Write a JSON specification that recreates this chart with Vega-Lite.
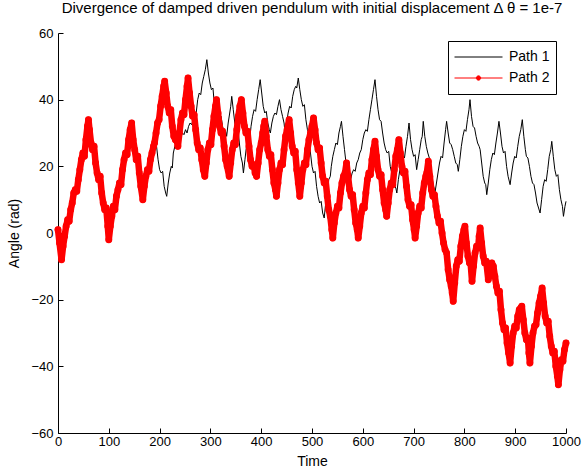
{
  "$schema": "https://vega.github.io/schema/vega-lite/v6.json",
  "width": 508,
  "height": 400,
  "autosize": {"type": "none"},
  "padding": {"left": 58, "top": 33, "right": 16, "bottom": 38},
  "background": "white",
  "config": {
    "view": {"stroke": null},
    "font": "Liberation Sans",
    "axis": {
      "grid": false,
      "domainColor": "#000000",
      "tickColor": "#000000",
      "labelColor": "#000000",
      "titleColor": "#000000",
      "labelFont": "Liberation Sans",
      "titleFont": "Liberation Sans",
      "labelFontSize": 13,
      "titleFontSize": 14,
      "titleFontWeight": "normal",
      "tickSize": -5
    },
    "legend": {
      "orient": "none",
      "legendX": 390,
      "legendY": 8,
      "strokeColor": "#000000",
      "fillColor": "white",
      "padding": 6,
      "symbolType": "stroke",
      "symbolSize": 2304,
      "symbolStrokeWidth": 1,
      "clipHeight": 20,
      "rowPadding": 1,
      "labelFont": "Liberation Sans",
      "labelFontSize": 14,
      "labelColor": "#000000",
      "labelOffset": 6,
      "title": null
    }
  },
  "title": {
    "text": "Divergence of damped driven pendulum with initial displacement Δ θ = 1e-7",
    "font": "Liberation Sans",
    "fontSize": 15,
    "fontWeight": "normal",
    "color": "#000000",
    "anchor": "middle",
    "offset": 11
  },
  "data": {
    "values": [
      {"p":"Path 1","t":0,"y":1},{"p":"Path 1","t":3,"y":-3},{"p":"Path 1","t":7,"y":-8},{"p":"Path 1","t":10,"y":-4},{"p":"Path 1","t":13,"y":-1},{"p":"Path 1","t":16,"y":2},{"p":"Path 1","t":19,"y":4},{"p":"Path 1","t":22,"y":3.5},{"p":"Path 1","t":25,"y":7},{"p":"Path 1","t":28,"y":9},{"p":"Path 1","t":31,"y":12},{"p":"Path 1","t":34,"y":13},{"p":"Path 1","t":37,"y":12.5},{"p":"Path 1","t":40,"y":16},{"p":"Path 1","t":43,"y":19},{"p":"Path 1","t":46,"y":22},{"p":"Path 1","t":49,"y":24},{"p":"Path 1","t":52,"y":23},{"p":"Path 1","t":55,"y":28},{"p":"Path 1","t":58,"y":32},{"p":"Path 1","t":60,"y":34},{"p":"Path 1","t":62,"y":31},{"p":"Path 1","t":65,"y":27},{"p":"Path 1","t":68,"y":25},{"p":"Path 1","t":71,"y":26},{"p":"Path 1","t":74,"y":21},{"p":"Path 1","t":77,"y":18},{"p":"Path 1","t":80,"y":16},{"p":"Path 1","t":83,"y":17},{"p":"Path 1","t":86,"y":12},{"p":"Path 1","t":89,"y":9},{"p":"Path 1","t":92,"y":7},{"p":"Path 1","t":95,"y":7.5},{"p":"Path 1","t":98,"y":2},{"p":"Path 1","t":100,"y":-2},{"p":"Path 1","t":103,"y":2},{"p":"Path 1","t":106,"y":5},{"p":"Path 1","t":109,"y":8},{"p":"Path 1","t":112,"y":7},{"p":"Path 1","t":115,"y":11},{"p":"Path 1","t":118,"y":13},{"p":"Path 1","t":121,"y":15},{"p":"Path 1","t":124,"y":14.5},{"p":"Path 1","t":127,"y":19},{"p":"Path 1","t":130,"y":22},{"p":"Path 1","t":133,"y":24},{"p":"Path 1","t":136,"y":23.5},{"p":"Path 1","t":139,"y":28},{"p":"Path 1","t":142,"y":31},{"p":"Path 1","t":145,"y":33},{"p":"Path 1","t":148,"y":28},{"p":"Path 1","t":151,"y":25},{"p":"Path 1","t":154,"y":22},{"p":"Path 1","t":157,"y":23},{"p":"Path 1","t":160,"y":18},{"p":"Path 1","t":163,"y":14},{"p":"Path 1","t":167,"y":10},{"p":"Path 1","t":170,"y":14},{"p":"Path 1","t":173,"y":17},{"p":"Path 1","t":176,"y":19},{"p":"Path 1","t":179,"y":18.5},{"p":"Path 1","t":182,"y":22},{"p":"Path 1","t":185,"y":24},{"p":"Path 1","t":188,"y":26},{"p":"Path 1","t":190,"y":27},
      {"p":"Path 1","t":192,"y":27.5},{"p":"Path 1","t":194,"y":26},{"p":"Path 1","t":197,"y":22},{"p":"Path 1","t":200,"y":19},{"p":"Path 1","t":203,"y":18},{"p":"Path 1","t":206,"y":18.5},{"p":"Path 1","t":209,"y":14},{"p":"Path 1","t":212,"y":12},{"p":"Path 1","t":214,"y":11},{"p":"Path 1","t":217,"y":15},{"p":"Path 1","t":220,"y":18},{"p":"Path 1","t":223,"y":20},{"p":"Path 1","t":225,"y":19.5},{"p":"Path 1","t":227,"y":24},{"p":"Path 1","t":230,"y":26},{"p":"Path 1","t":233,"y":27},{"p":"Path 1","t":236,"y":26.5},{"p":"Path 1","t":239,"y":28},{"p":"Path 1","t":242,"y":29},{"p":"Path 1","t":245,"y":30},{"p":"Path 1","t":248,"y":29.5},{"p":"Path 1","t":251,"y":31},{"p":"Path 1","t":254,"y":30},{"p":"Path 1","t":257,"y":32},{"p":"Path 1","t":260,"y":33},{"p":"Path 1","t":263,"y":32.5},{"p":"Path 1","t":266,"y":34},{"p":"Path 1","t":269,"y":35},{"p":"Path 1","t":272,"y":36},{"p":"Path 1","t":275,"y":40},{"p":"Path 1","t":278,"y":42},{"p":"Path 1","t":281,"y":41.5},{"p":"Path 1","t":284,"y":45},{"p":"Path 1","t":287,"y":47},{"p":"Path 1","t":290,"y":49},{"p":"Path 1","t":293,"y":52},{"p":"Path 1","t":296,"y":48},{"p":"Path 1","t":299,"y":45},{"p":"Path 1","t":302,"y":43},{"p":"Path 1","t":305,"y":43.5},{"p":"Path 1","t":307,"y":40},{"p":"Path 1","t":309,"y":38},{"p":"Path 1","t":312,"y":39},{"p":"Path 1","t":315,"y":36},{"p":"Path 1","t":318,"y":34},{"p":"Path 1","t":321,"y":35},{"p":"Path 1","t":324,"y":32},{"p":"Path 1","t":327,"y":30},{"p":"Path 1","t":330,"y":30.5},{"p":"Path 1","t":332,"y":29},{"p":"Path 1","t":335,"y":33},{"p":"Path 1","t":338,"y":36},{"p":"Path 1","t":340,"y":38},{"p":"Path 1","t":342,"y":41},{"p":"Path 1","t":345,"y":37},{"p":"Path 1","t":348,"y":33},{"p":"Path 1","t":351,"y":31},{"p":"Path 1","t":354,"y":31.5},{"p":"Path 1","t":357,"y":27},{"p":"Path 1","t":360,"y":23},{"p":"Path 1","t":363,"y":21},{"p":"Path 1","t":365,"y":18},{"p":"Path 1","t":368,"y":22},{"p":"Path 1","t":371,"y":26},{"p":"Path 1","t":374,"y":28},{"p":"Path 1","t":377,"y":27.5},{"p":"Path 1","t":380,"y":32},{"p":"Path 1","t":383,"y":35},{"p":"Path 1","t":386,"y":37},{"p":"Path 1","t":389,"y":36.5},{"p":"Path 1","t":392,"y":40},{"p":"Path 1","t":395,"y":43},{"p":"Path 1","t":398,"y":46},{"p":"Path 1","t":401,"y":42},{"p":"Path 1","t":404,"y":38},{"p":"Path 1","t":407,"y":36},{"p":"Path 1","t":410,"y":36.5},{"p":"Path 1","t":413,"y":33},{"p":"Path 1","t":416,"y":31},{"p":"Path 1","t":418,"y":30},{"p":"Path 1","t":421,"y":33},{"p":"Path 1","t":424,"y":35},{"p":"Path 1","t":427,"y":36},{"p":"Path 1","t":430,"y":35.5},{"p":"Path 1","t":433,"y":38},{"p":"Path 1","t":436,"y":40},{"p":"Path 1","t":439,"y":37},{"p":"Path 1","t":442,"y":35},{"p":"Path 1","t":445,"y":33},{"p":"Path 1","t":447,"y":30},{"p":"Path 1","t":450,"y":33},{"p":"Path 1","t":453,"y":36},{"p":"Path 1","t":456,"y":38},{"p":"Path 1","t":459,"y":37.5},{"p":"Path 1","t":462,"y":41},{"p":"Path 1","t":465,"y":43},{"p":"Path 1","t":468,"y":44},{"p":"Path 1","t":470,"y":43.5},{"p":"Path 1","t":473,"y":46.5},{"p":"Path 1","t":476,"y":43},{"p":"Path 1","t":479,"y":40},{"p":"Path 1","t":482,"y":38},{"p":"Path 1","t":485,"y":38.5},{"p":"Path 1","t":488,"y":34},{"p":"Path 1","t":491,"y":31},{"p":"Path 1","t":494,"y":30},{"p":"Path 1","t":497,"y":24},{"p":"Path 1","t":500,"y":20},{"p":"Path 1","t":503,"y":18},{"p":"Path 1","t":506,"y":18.5},{"p":"Path 1","t":509,"y":14},{"p":"Path 1","t":512,"y":11},{"p":"Path 1","t":515,"y":9},{"p":"Path 1","t":518,"y":9.5},{"p":"Path 1","t":521,"y":6},{"p":"Path 1","t":524,"y":4.5},{"p":"Path 1","t":527,"y":9},{"p":"Path 1","t":530,"y":13},{"p":"Path 1","t":533,"y":16},{"p":"Path 1","t":536,"y":17},{"p":"Path 1","t":538,"y":20},{"p":"Path 1","t":541,"y":23},{"p":"Path 1","t":544,"y":25},{"p":"Path 1","t":547,"y":27},{"p":"Path 1","t":550,"y":26.5},{"p":"Path 1","t":553,"y":30},{"p":"Path 1","t":556,"y":32},{"p":"Path 1","t":558,"y":33.5},{"p":"Path 1","t":561,"y":29},{"p":"Path 1","t":564,"y":25},{"p":"Path 1","t":567,"y":21},{"p":"Path 1","t":570,"y":17},{"p":"Path 1","t":573,"y":12},{"p":"Path 1","t":576,"y":16},{"p":"Path 1","t":579,"y":18},{"p":"Path 1","t":582,"y":19},{"p":"Path 1","t":585,"y":18.5},{"p":"Path 1","t":588,"y":21},{"p":"Path 1","t":591,"y":22},{"p":"Path 1","t":594,"y":24},{"p":"Path 1","t":597,"y":25},{"p":"Path 1","t":600,"y":28},{"p":"Path 1","t":603,"y":30},{"p":"Path 1","t":606,"y":31},{"p":"Path 1","t":609,"y":30.5},{"p":"Path 1","t":612,"y":34},{"p":"Path 1","t":615,"y":37},{"p":"Path 1","t":618,"y":40},{"p":"Path 1","t":621,"y":43},{"p":"Path 1","t":624,"y":46},{"p":"Path 1","t":627,"y":41},{"p":"Path 1","t":630,"y":37},{"p":"Path 1","t":633,"y":34},{"p":"Path 1","t":636,"y":33.5},{"p":"Path 1","t":639,"y":30},{"p":"Path 1","t":642,"y":27},{"p":"Path 1","t":645,"y":25},{"p":"Path 1","t":648,"y":24},{"p":"Path 1","t":651,"y":24.5},{"p":"Path 1","t":654,"y":20},{"p":"Path 1","t":657,"y":18},{"p":"Path 1","t":660,"y":16},{"p":"Path 1","t":663,"y":14},{"p":"Path 1","t":665,"y":13.5},{"p":"Path 1","t":667,"y":12},{"p":"Path 1","t":670,"y":16},{"p":"Path 1","t":673,"y":19},{"p":"Path 1","t":676,"y":21},{"p":"Path 1","t":679,"y":23},{"p":"Path 1","t":682,"y":22.5},{"p":"Path 1","t":685,"y":26},{"p":"Path 1","t":688,"y":29},{"p":"Path 1","t":691,"y":33},{"p":"Path 1","t":694,"y":28},{"p":"Path 1","t":697,"y":25},{"p":"Path 1","t":700,"y":23},{"p":"Path 1","t":703,"y":23.5},{"p":"Path 1","t":706,"y":19},{"p":"Path 1","t":709,"y":22},{"p":"Path 1","t":712,"y":25},{"p":"Path 1","t":715,"y":28},{"p":"Path 1","t":717,"y":29},{"p":"Path 1","t":719,"y":33.5},{"p":"Path 1","t":722,"y":29},{"p":"Path 1","t":725,"y":26},{"p":"Path 1","t":728,"y":24},{"p":"Path 1","t":732,"y":22},{"p":"Path 1","t":735,"y":18},{"p":"Path 1","t":738,"y":15},{"p":"Path 1","t":742,"y":12},{"p":"Path 1","t":745,"y":15},{"p":"Path 1","t":748,"y":18},{"p":"Path 1","t":751,"y":21},{"p":"Path 1","t":754,"y":23},{"p":"Path 1","t":757,"y":22.5},{"p":"Path 1","t":760,"y":27},{"p":"Path 1","t":763,"y":31},{"p":"Path 1","t":765,"y":33.5},{"p":"Path 1","t":768,"y":30},{"p":"Path 1","t":771,"y":27},{"p":"Path 1","t":774,"y":26.5},{"p":"Path 1","t":777,"y":25},{"p":"Path 1","t":780,"y":23},{"p":"Path 1","t":783,"y":21},{"p":"Path 1","t":786,"y":20.5},{"p":"Path 1","t":788,"y":18.5},{"p":"Path 1","t":791,"y":22},{"p":"Path 1","t":794,"y":26},{"p":"Path 1","t":797,"y":29},{"p":"Path 1","t":800,"y":31},{"p":"Path 1","t":803,"y":30.5},{"p":"Path 1","t":806,"y":34},{"p":"Path 1","t":809,"y":37},{"p":"Path 1","t":811,"y":40},{"p":"Path 1","t":814,"y":35},{"p":"Path 1","t":817,"y":32},{"p":"Path 1","t":820,"y":31.5},{"p":"Path 1","t":823,"y":29},{"p":"Path 1","t":826,"y":27},{"p":"Path 1","t":829,"y":26},{"p":"Path 1","t":831,"y":25},{"p":"Path 1","t":834,"y":21},{"p":"Path 1","t":837,"y":17},{"p":"Path 1","t":840,"y":15},{"p":"Path 1","t":842,"y":14.5},{"p":"Path 1","t":844,"y":11.5},{"p":"Path 1","t":847,"y":15},{"p":"Path 1","t":850,"y":19},{"p":"Path 1","t":853,"y":22},{"p":"Path 1","t":856,"y":24},{"p":"Path 1","t":859,"y":23.5},{"p":"Path 1","t":862,"y":27},{"p":"Path 1","t":865,"y":30},{"p":"Path 1","t":868,"y":33.5},{"p":"Path 1","t":871,"y":30},{"p":"Path 1","t":874,"y":26},{"p":"Path 1","t":877,"y":24},{"p":"Path 1","t":880,"y":24.5},{"p":"Path 1","t":883,"y":20},{"p":"Path 1","t":886,"y":17},{"p":"Path 1","t":890,"y":14.5},{"p":"Path 1","t":893,"y":18},{"p":"Path 1","t":896,"y":21},{"p":"Path 1","t":899,"y":23},{"p":"Path 1","t":902,"y":22.5},{"p":"Path 1","t":905,"y":26},{"p":"Path 1","t":908,"y":29},{"p":"Path 1","t":911,"y":31},{"p":"Path 1","t":914,"y":34},{"p":"Path 1","t":917,"y":29},{"p":"Path 1","t":920,"y":25},{"p":"Path 1","t":922,"y":23},{"p":"Path 1","t":925,"y":22.5},{"p":"Path 1","t":928,"y":20},{"p":"Path 1","t":931,"y":17},{"p":"Path 1","t":934,"y":15},{"p":"Path 1","t":937,"y":14.5},{"p":"Path 1","t":940,"y":12},{"p":"Path 1","t":943,"y":9},{"p":"Path 1","t":946,"y":7.5},{"p":"Path 1","t":949,"y":6},{"p":"Path 1","t":952,"y":10},{"p":"Path 1","t":955,"y":14},{"p":"Path 1","t":958,"y":16},{"p":"Path 1","t":961,"y":15.5},{"p":"Path 1","t":964,"y":19},{"p":"Path 1","t":967,"y":23},{"p":"Path 1","t":970,"y":25},{"p":"Path 1","t":972,"y":27.5},{"p":"Path 1","t":975,"y":23},{"p":"Path 1","t":978,"y":19},{"p":"Path 1","t":981,"y":17},{"p":"Path 1","t":984,"y":17.5},{"p":"Path 1","t":987,"y":13},{"p":"Path 1","t":990,"y":10},{"p":"Path 1","t":993,"y":8},{"p":"Path 1","t":995,"y":5},{"p":"Path 1","t":998,"y":8},{"p":"Path 1","t":1000,"y":9.5},
      {"p":"Path 2","t":0,"y":1},{"p":"Path 2","t":3,"y":-3},{"p":"Path 2","t":7,"y":-8},{"p":"Path 2","t":10,"y":-4},{"p":"Path 2","t":13,"y":-1},{"p":"Path 2","t":16,"y":2},{"p":"Path 2","t":19,"y":4},{"p":"Path 2","t":22,"y":3.5},{"p":"Path 2","t":25,"y":7},{"p":"Path 2","t":28,"y":9},{"p":"Path 2","t":31,"y":12},{"p":"Path 2","t":34,"y":13},{"p":"Path 2","t":37,"y":12.5},{"p":"Path 2","t":40,"y":16},{"p":"Path 2","t":43,"y":19},{"p":"Path 2","t":46,"y":22},{"p":"Path 2","t":49,"y":24},{"p":"Path 2","t":52,"y":23},{"p":"Path 2","t":55,"y":28},{"p":"Path 2","t":58,"y":32},{"p":"Path 2","t":60,"y":34},{"p":"Path 2","t":62,"y":31},{"p":"Path 2","t":65,"y":27},{"p":"Path 2","t":68,"y":25},{"p":"Path 2","t":71,"y":26},{"p":"Path 2","t":74,"y":21},{"p":"Path 2","t":77,"y":18},{"p":"Path 2","t":80,"y":16},{"p":"Path 2","t":83,"y":17},{"p":"Path 2","t":86,"y":12},{"p":"Path 2","t":89,"y":9},{"p":"Path 2","t":92,"y":7},{"p":"Path 2","t":95,"y":7.5},{"p":"Path 2","t":98,"y":2},{"p":"Path 2","t":100,"y":-2},{"p":"Path 2","t":103,"y":2},{"p":"Path 2","t":106,"y":5},{"p":"Path 2","t":109,"y":8},{"p":"Path 2","t":112,"y":7},{"p":"Path 2","t":115,"y":11},{"p":"Path 2","t":118,"y":13},{"p":"Path 2","t":121,"y":15},{"p":"Path 2","t":124,"y":14.5},{"p":"Path 2","t":127,"y":19},{"p":"Path 2","t":130,"y":22},{"p":"Path 2","t":133,"y":24},{"p":"Path 2","t":136,"y":23.5},{"p":"Path 2","t":139,"y":28},{"p":"Path 2","t":142,"y":31},{"p":"Path 2","t":145,"y":33},{"p":"Path 2","t":148,"y":28},{"p":"Path 2","t":151,"y":25},{"p":"Path 2","t":154,"y":22},{"p":"Path 2","t":157,"y":23},{"p":"Path 2","t":160,"y":18},{"p":"Path 2","t":163,"y":14},{"p":"Path 2","t":167,"y":10},{"p":"Path 2","t":170,"y":14},{"p":"Path 2","t":173,"y":17},{"p":"Path 2","t":176,"y":19},{"p":"Path 2","t":179,"y":18.5},{"p":"Path 2","t":182,"y":22},{"p":"Path 2","t":185,"y":24},{"p":"Path 2","t":188,"y":26},{"p":"Path 2","t":190,"y":27},
      {"p":"Path 2","t":193,"y":30},{"p":"Path 2","t":196,"y":33},{"p":"Path 2","t":199,"y":34},{"p":"Path 2","t":202,"y":38},{"p":"Path 2","t":205,"y":41},{"p":"Path 2","t":208,"y":44},{"p":"Path 2","t":210,"y":45.5},{"p":"Path 2","t":213,"y":42},{"p":"Path 2","t":216,"y":38},{"p":"Path 2","t":219,"y":36},{"p":"Path 2","t":222,"y":37},{"p":"Path 2","t":225,"y":32},{"p":"Path 2","t":228,"y":29},{"p":"Path 2","t":231,"y":28},{"p":"Path 2","t":234,"y":27.5},{"p":"Path 2","t":236,"y":26},{"p":"Path 2","t":239,"y":30},{"p":"Path 2","t":242,"y":34},{"p":"Path 2","t":245,"y":36},{"p":"Path 2","t":248,"y":35.5},{"p":"Path 2","t":251,"y":40},{"p":"Path 2","t":254,"y":44},{"p":"Path 2","t":256,"y":46.5},{"p":"Path 2","t":259,"y":42},{"p":"Path 2","t":262,"y":38},{"p":"Path 2","t":265,"y":35},{"p":"Path 2","t":268,"y":35.5},{"p":"Path 2","t":271,"y":31},{"p":"Path 2","t":274,"y":27},{"p":"Path 2","t":277,"y":25},{"p":"Path 2","t":280,"y":25.5},{"p":"Path 2","t":283,"y":22},{"p":"Path 2","t":286,"y":19},{"p":"Path 2","t":289,"y":17},{"p":"Path 2","t":292,"y":21},{"p":"Path 2","t":295,"y":25},{"p":"Path 2","t":298,"y":27},{"p":"Path 2","t":301,"y":26.5},{"p":"Path 2","t":304,"y":31},{"p":"Path 2","t":307,"y":35},{"p":"Path 2","t":310,"y":38},{"p":"Path 2","t":312,"y":40},{"p":"Path 2","t":315,"y":36},{"p":"Path 2","t":318,"y":32},{"p":"Path 2","t":321,"y":30},{"p":"Path 2","t":324,"y":30.5},{"p":"Path 2","t":327,"y":26},{"p":"Path 2","t":330,"y":22},{"p":"Path 2","t":333,"y":20},{"p":"Path 2","t":337,"y":17},{"p":"Path 2","t":340,"y":21},{"p":"Path 2","t":343,"y":25},{"p":"Path 2","t":346,"y":27},{"p":"Path 2","t":349,"y":26.5},{"p":"Path 2","t":352,"y":31},{"p":"Path 2","t":355,"y":35},{"p":"Path 2","t":358,"y":38},{"p":"Path 2","t":361,"y":40},{"p":"Path 2","t":364,"y":36},{"p":"Path 2","t":367,"y":32},{"p":"Path 2","t":370,"y":30},{"p":"Path 2","t":373,"y":30.5},{"p":"Path 2","t":376,"y":26},{"p":"Path 2","t":379,"y":22},{"p":"Path 2","t":382,"y":20},{"p":"Path 2","t":385,"y":20.5},{"p":"Path 2","t":388,"y":18},{"p":"Path 2","t":391,"y":17},{"p":"Path 2","t":394,"y":21},{"p":"Path 2","t":397,"y":25},{"p":"Path 2","t":400,"y":27},{"p":"Path 2","t":403,"y":30},{"p":"Path 2","t":405,"y":32},{"p":"Path 2","t":407,"y":33.5},{"p":"Path 2","t":410,"y":29},{"p":"Path 2","t":413,"y":25},{"p":"Path 2","t":416,"y":23},{"p":"Path 2","t":419,"y":23.5},{"p":"Path 2","t":422,"y":19},{"p":"Path 2","t":425,"y":15},{"p":"Path 2","t":428,"y":13},{"p":"Path 2","t":430,"y":11},{"p":"Path 2","t":433,"y":15},{"p":"Path 2","t":436,"y":19},{"p":"Path 2","t":439,"y":21},{"p":"Path 2","t":442,"y":20.5},{"p":"Path 2","t":445,"y":25},{"p":"Path 2","t":448,"y":29},{"p":"Path 2","t":451,"y":31},{"p":"Path 2","t":455,"y":34},{"p":"Path 2","t":458,"y":30},{"p":"Path 2","t":461,"y":26},{"p":"Path 2","t":464,"y":24},{"p":"Path 2","t":467,"y":24.5},{"p":"Path 2","t":470,"y":19},{"p":"Path 2","t":473,"y":15},{"p":"Path 2","t":476,"y":11},{"p":"Path 2","t":479,"y":15},{"p":"Path 2","t":482,"y":19},{"p":"Path 2","t":485,"y":21},{"p":"Path 2","t":488,"y":20.5},{"p":"Path 2","t":491,"y":25},{"p":"Path 2","t":494,"y":28},{"p":"Path 2","t":497,"y":30},{"p":"Path 2","t":500,"y":32},{"p":"Path 2","t":503,"y":34.5},{"p":"Path 2","t":506,"y":31},{"p":"Path 2","t":509,"y":27},{"p":"Path 2","t":512,"y":25},{"p":"Path 2","t":515,"y":25.5},{"p":"Path 2","t":518,"y":21},{"p":"Path 2","t":521,"y":17},{"p":"Path 2","t":524,"y":15},{"p":"Path 2","t":527,"y":15.5},{"p":"Path 2","t":530,"y":11},{"p":"Path 2","t":533,"y":7},{"p":"Path 2","t":536,"y":5},{"p":"Path 2","t":539,"y":1},{"p":"Path 2","t":541,"y":-1.5},{"p":"Path 2","t":544,"y":3},{"p":"Path 2","t":547,"y":6},{"p":"Path 2","t":550,"y":8},{"p":"Path 2","t":553,"y":7.5},{"p":"Path 2","t":556,"y":12},{"p":"Path 2","t":559,"y":15},{"p":"Path 2","t":562,"y":17},{"p":"Path 2","t":565,"y":18},{"p":"Path 2","t":568,"y":21},{"p":"Path 2","t":571,"y":17},{"p":"Path 2","t":574,"y":13},{"p":"Path 2","t":577,"y":11},{"p":"Path 2","t":580,"y":11.5},{"p":"Path 2","t":583,"y":7},{"p":"Path 2","t":586,"y":3},{"p":"Path 2","t":589,"y":1},{"p":"Path 2","t":591,"y":-1.5},{"p":"Path 2","t":594,"y":2},{"p":"Path 2","t":597,"y":6},{"p":"Path 2","t":600,"y":8},{"p":"Path 2","t":603,"y":7.5},{"p":"Path 2","t":606,"y":12},{"p":"Path 2","t":609,"y":16},{"p":"Path 2","t":612,"y":18},{"p":"Path 2","t":615,"y":17.5},{"p":"Path 2","t":618,"y":22},{"p":"Path 2","t":621,"y":25},{"p":"Path 2","t":624,"y":27.5},{"p":"Path 2","t":627,"y":23},{"p":"Path 2","t":630,"y":19},{"p":"Path 2","t":633,"y":17},{"p":"Path 2","t":636,"y":17.5},{"p":"Path 2","t":639,"y":13},{"p":"Path 2","t":642,"y":9},{"p":"Path 2","t":645,"y":7},{"p":"Path 2","t":647,"y":5},{"p":"Path 2","t":650,"y":9},{"p":"Path 2","t":653,"y":13},{"p":"Path 2","t":656,"y":15},{"p":"Path 2","t":659,"y":14.5},{"p":"Path 2","t":662,"y":19},{"p":"Path 2","t":665,"y":23},{"p":"Path 2","t":668,"y":25},{"p":"Path 2","t":671,"y":28},{"p":"Path 2","t":674,"y":24},{"p":"Path 2","t":677,"y":20},{"p":"Path 2","t":680,"y":18},{"p":"Path 2","t":683,"y":18.5},{"p":"Path 2","t":686,"y":14},{"p":"Path 2","t":689,"y":10},{"p":"Path 2","t":692,"y":8},{"p":"Path 2","t":695,"y":8.5},{"p":"Path 2","t":698,"y":4},{"p":"Path 2","t":701,"y":1},{"p":"Path 2","t":703,"y":-1.5},{"p":"Path 2","t":706,"y":2},{"p":"Path 2","t":709,"y":6},{"p":"Path 2","t":712,"y":8},{"p":"Path 2","t":715,"y":7.5},{"p":"Path 2","t":718,"y":12},{"p":"Path 2","t":721,"y":15},{"p":"Path 2","t":724,"y":17},{"p":"Path 2","t":726,"y":18},{"p":"Path 2","t":729,"y":21.5},{"p":"Path 2","t":732,"y":17},{"p":"Path 2","t":735,"y":13},{"p":"Path 2","t":738,"y":11},{"p":"Path 2","t":741,"y":11.5},{"p":"Path 2","t":744,"y":8},{"p":"Path 2","t":747,"y":5},{"p":"Path 2","t":750,"y":3},{"p":"Path 2","t":753,"y":3.5},{"p":"Path 2","t":756,"y":0},{"p":"Path 2","t":759,"y":-3},{"p":"Path 2","t":762,"y":-5},{"p":"Path 2","t":765,"y":-6},{"p":"Path 2","t":768,"y":-11},{"p":"Path 2","t":771,"y":-14},{"p":"Path 2","t":774,"y":-16},{"p":"Path 2","t":776,"y":-18},{"p":"Path 2","t":778,"y":-20.5},{"p":"Path 2","t":781,"y":-15},{"p":"Path 2","t":784,"y":-10},{"p":"Path 2","t":787,"y":-8},{"p":"Path 2","t":790,"y":-8.5},{"p":"Path 2","t":793,"y":-4},{"p":"Path 2","t":796,"y":-1},{"p":"Path 2","t":799,"y":1},{"p":"Path 2","t":801,"y":2},{"p":"Path 2","t":804,"y":-3},{"p":"Path 2","t":807,"y":-7},{"p":"Path 2","t":810,"y":-9},{"p":"Path 2","t":812,"y":-8.5},{"p":"Path 2","t":815,"y":-14.5},{"p":"Path 2","t":818,"y":-10},{"p":"Path 2","t":821,"y":-6},{"p":"Path 2","t":824,"y":-4},{"p":"Path 2","t":827,"y":-4.5},{"p":"Path 2","t":829,"y":-1},{"p":"Path 2","t":831,"y":1.5},{"p":"Path 2","t":834,"y":-3},{"p":"Path 2","t":837,"y":-7},{"p":"Path 2","t":840,"y":-9},{"p":"Path 2","t":843,"y":-8.5},{"p":"Path 2","t":847,"y":-14},{"p":"Path 2","t":850,"y":-12},{"p":"Path 2","t":854,"y":-9},{"p":"Path 2","t":857,"y":-10},{"p":"Path 2","t":860,"y":-13},{"p":"Path 2","t":863,"y":-16},{"p":"Path 2","t":866,"y":-18},{"p":"Path 2","t":869,"y":-17.5},{"p":"Path 2","t":872,"y":-23},{"p":"Path 2","t":875,"y":-27},{"p":"Path 2","t":878,"y":-29},{"p":"Path 2","t":881,"y":-28.5},{"p":"Path 2","t":884,"y":-33},{"p":"Path 2","t":887,"y":-36},{"p":"Path 2","t":890,"y":-39},{"p":"Path 2","t":893,"y":-34},{"p":"Path 2","t":896,"y":-30},{"p":"Path 2","t":899,"y":-28},{"p":"Path 2","t":902,"y":-28.5},{"p":"Path 2","t":905,"y":-25},{"p":"Path 2","t":908,"y":-23},{"p":"Path 2","t":911,"y":-22.5},{"p":"Path 2","t":913,"y":-22},{"p":"Path 2","t":916,"y":-26},{"p":"Path 2","t":919,"y":-30},{"p":"Path 2","t":922,"y":-32},{"p":"Path 2","t":925,"y":-31.5},{"p":"Path 2","t":927,"y":-36},{"p":"Path 2","t":929,"y":-39},{"p":"Path 2","t":932,"y":-34},{"p":"Path 2","t":935,"y":-30},{"p":"Path 2","t":938,"y":-28},{"p":"Path 2","t":941,"y":-27.5},{"p":"Path 2","t":944,"y":-24},{"p":"Path 2","t":947,"y":-21},{"p":"Path 2","t":950,"y":-19},{"p":"Path 2","t":953,"y":-16.5},{"p":"Path 2","t":956,"y":-21},{"p":"Path 2","t":959,"y":-25},{"p":"Path 2","t":962,"y":-27},{"p":"Path 2","t":965,"y":-26.5},{"p":"Path 2","t":968,"y":-31},{"p":"Path 2","t":971,"y":-34},{"p":"Path 2","t":974,"y":-36},{"p":"Path 2","t":977,"y":-35.5},{"p":"Path 2","t":980,"y":-40},{"p":"Path 2","t":983,"y":-43},{"p":"Path 2","t":985,"y":-45.5},{"p":"Path 2","t":988,"y":-41},{"p":"Path 2","t":991,"y":-38},{"p":"Path 2","t":994,"y":-38.5},{"p":"Path 2","t":997,"y":-35},{"p":"Path 2","t":1000,"y":-33}
    ]
  },
  "encoding": {
    "x": {
      "field": "t", "type": "quantitative", "title": "Time",
      "scale": {"domain": [0, 1000], "nice": false},
      "axis": {"values": [0,100,200,300,400,500,600,700,800,900,1000], "format": "d", "labelPadding": 7, "titlePadding": 6, "labelFlush": false}
    },
    "y": {
      "field": "y", "type": "quantitative", "title": "Angle (rad)",
      "scale": {"domain": [-60, 60], "nice": false},
      "axis": {"values": [-60,-40,-20,0,20,40,60], "labelPadding": 10, "titlePadding": 9, "labelFlush": false}
    }
  },
  "layer": [
    {
      "transform": [{"filter": "datum.p === 'Path 1'"}],
      "mark": {"type": "line", "strokeWidth": 1, "strokeJoin": "miter"},
      "encoding": {
        "color": {
          "field": "p", "type": "nominal",
          "scale": {"domain": ["Path 1", "Path 2"], "range": ["#000000", "#ff0000"]},
          "legend": {
            "encode": {
              "symbols": {
                "update": {
                  "shape": {"signal": "datum.value === 'Path 2' ? 'M-1,0H1M-0.09,0A0.09,0.09,0,1,0,0.09,0A0.09,0.09,0,1,0,-0.09,0Z' : 'M-1,0H1'"},
                  "fill": {"signal": "datum.value === 'Path 2' ? '#ff0000' : 'transparent'"},
                  "strokeWidth": {"value": 1}
                }
              }
            }
          }
        }
      }
    },
    {
      "transform": [{"filter": "datum.p === 'Path 2'"}],
      "mark": {"type": "line", "strokeWidth": 6.5, "strokeJoin": "round", "strokeCap": "round"},
      "encoding": {
        "color": {"field": "p", "type": "nominal"}
      }
    },
    {
      "transform": [{"filter": "datum.p === 'Path 2'"}],
      "mark": {"type": "point", "shape": "circle", "filled": true, "size": 48, "opacity": 1, "color": "#ff0000"},
      "encoding": {}
    }
  ]
}
